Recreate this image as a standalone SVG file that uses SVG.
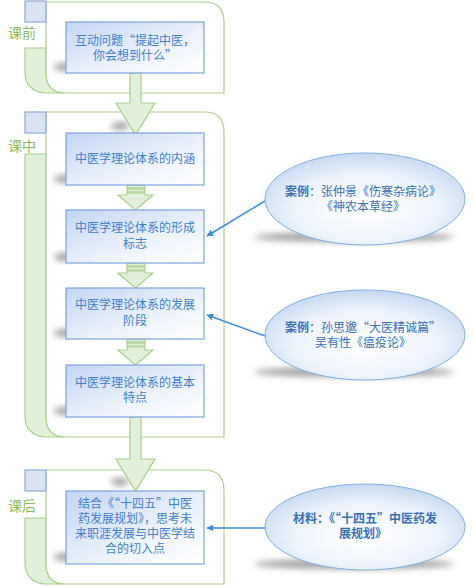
<svg xmlns="http://www.w3.org/2000/svg" width="473" height="586" viewBox="0 0 473 586">
<defs>
<linearGradient id="boxg" x1="0" y1="0" x2="1" y2="1">
<stop offset="0" stop-color="#c3d6f3"/>
<stop offset="0.6" stop-color="#edf3fc"/>
<stop offset="1" stop-color="#ffffff"/>
</linearGradient>
<radialGradient id="ellg" cx="0.5" cy="0.6" r="0.6">
<stop offset="0" stop-color="#ffffff"/>
<stop offset="0.6" stop-color="#eef4fc"/>
<stop offset="1" stop-color="#c6d9f2"/>
</radialGradient>
<filter id="blur" x="-50%" y="-50%" width="200%" height="200%">
<feGaussianBlur stdDeviation="3"/>
</filter>
<marker id="ah" viewBox="0 0 10 10" refX="9" refY="5" markerWidth="7" markerHeight="7" orient="auto-start-reverse" markerUnits="userSpaceOnUse">
<path d="M0,0 L10,5 L0,10 Z" fill="#3a8ee6"/>
</marker>
</defs>
<style>
.frame{fill:#ffffff;stroke:#a9d18e;stroke-width:1.2}
.tab{fill:#e2efd9;stroke:#a9d18e;stroke-width:1.2}
.sq{fill:#dae3f3;stroke:#8eaadb;stroke-width:1.2}
.lbl{font-family:"Noto Sans CJK SC","Noto Sans CJK JP",sans-serif;font-size:14px;fill:#8cbb5c;text-anchor:middle}
.box{fill:url(#boxg);stroke:#7aa6de;stroke-width:1.2}
.bt{font-family:"Noto Sans CJK SC","Noto Sans CJK JP",sans-serif;font-size:12px;fill:#3f7fcf;text-anchor:middle}
.ell{fill:url(#ellg);stroke:#7eb0e4;stroke-width:1}
.et{font-family:"Noto Sans CJK SC","Noto Sans CJK JP",sans-serif;font-size:12px;fill:#3a72b8;text-anchor:middle}
.b{font-weight:bold}
.arr{fill:#e2efd9;stroke:#a9d18e;stroke-width:1.2}
.sh{fill:#444;opacity:0.5;filter:url(#blur)}
.con{stroke:#3a8ee6;stroke-width:1.5;fill:none;marker-end:url(#ah)}
</style>

<!-- Section 1: 课前 -->
<g id="sec-pre">
<path class="tab" d="M25,48 H46 V73 C46,85 54,93 64,93 H46 C34,93 25,85 25,73 Z"/>
<path class="frame" d="M46,2 H204 Q224,2 224,22 V93 H66 Q46,93 46,73 Z"/>
<rect class="sq" x="25" y="1" width="21" height="21"/>
<text class="lbl" x="22" y="38">课前</text>
</g>

<!-- Section 2: 课中 -->
<g id="sec-mid">
<path class="tab" d="M25,154 H46 V417 C46,429 54,437 64,437 H46 C34,437 25,429 25,417 Z"/>
<path class="frame" d="M46,112 H204 Q224,112 224,132 V437 H66 Q46,437 46,417 Z"/>
<rect class="sq" x="25" y="112" width="21" height="21"/>
<text class="lbl" x="22" y="151">课中</text>
</g>

<!-- Section 3: 课后 -->
<g id="sec-post">
<path class="tab" d="M25,518 H46 V564 C46,576 54,584 64,584 H46 C34,584 25,576 25,564 Z"/>
<path class="frame" d="M46,470 H204 Q224,470 224,490 V584 H66 Q46,584 46,564 Z"/>
<rect class="sq" x="25" y="470" width="21" height="21"/>
<text class="lbl" x="22" y="511">课后</text>
</g>

<!-- Connectors -->
<g id="connectors">
<ellipse class="sh" cx="120" cy="126" rx="9" ry="4"/>
<path class="arr" d="M130,73 H141 V103 H155 L135.5,135 L116,103 H130 Z"/>
<g id="sa1">
<rect class="arr" x="127" y="185" width="18" height="3"/>
<rect class="arr" x="127" y="189" width="18" height="3"/>
<path class="arr" d="M127,193 H145 V195 H153 L135.5,210 L118,195 H127 Z"/>
</g>
<g id="sa2">
<rect class="arr" x="127" y="263" width="18" height="3"/>
<rect class="arr" x="127" y="267" width="18" height="3"/>
<path class="arr" d="M127,271 H145 V273 H153 L135.5,288 L118,273 H127 Z"/>
</g>
<g id="sa3">
<rect class="arr" x="127" y="339" width="18" height="3"/>
<rect class="arr" x="127" y="343" width="18" height="3"/>
<path class="arr" d="M127,347 H145 V350 H153 L135.5,365 L118,350 H127 Z"/>
</g>
<ellipse class="sh" cx="120" cy="482" rx="9" ry="4"/>
<path class="arr" d="M130,417 H141 V459 H155 L135.5,491 L116,459 H130 Z"/>
<line class="con" x1="265" y1="201" x2="207" y2="236"/>
<line class="con" x1="265" y1="336" x2="207" y2="315"/>
<line class="con" x1="265" y1="528" x2="207" y2="528"/>
</g>

<!-- Boxes -->
<g id="box1">
<ellipse class="sh" cx="64" cy="67" rx="10" ry="4"/>
<rect class="box" x="66" y="22" width="138" height="51"/>
<text class="bt" x="135" y="45">互动问题“提起中医，</text>
<text class="bt" x="135" y="60">你会想到什么”</text>
</g>
<g id="boxA">
<ellipse class="sh" cx="64" cy="179" rx="10" ry="4"/>
<rect class="box" x="66" y="133" width="138" height="52"/>
<text class="bt" x="135" y="163">中医学理论体系的内涵</text>
</g>
<g id="boxB">
<ellipse class="sh" cx="64" cy="257" rx="10" ry="4"/>
<rect class="box" x="66" y="210" width="138" height="53"/>
<text class="bt" x="135" y="232">中医学理论体系的形成</text>
<text class="bt" x="135" y="248">标志</text>
</g>
<g id="boxC">
<ellipse class="sh" cx="64" cy="333" rx="10" ry="4"/>
<rect class="box" x="66" y="288" width="138" height="51"/>
<text class="bt" x="135" y="309">中医学理论体系的发展</text>
<text class="bt" x="135" y="325">阶段</text>
</g>
<g id="boxD">
<ellipse class="sh" cx="64" cy="411" rx="10" ry="4"/>
<rect class="box" x="66" y="365" width="138" height="52"/>
<text class="bt" x="135" y="387">中医学理论体系的基本</text>
<text class="bt" x="135" y="402">特点</text>
</g>
<g id="boxE">
<ellipse class="sh" cx="64" cy="557" rx="10" ry="4"/>
<rect class="box" x="66" y="491" width="138" height="73"/>
<text class="bt" x="135" y="508">结合《“十四五”中医</text>
<text class="bt" x="135" y="523">药发展规划》，思考未</text>
<text class="bt" x="135" y="538">来职涯发展与中医学结</text>
<text class="bt" x="135" y="553">合的切入点</text>
</g>

<!-- Ellipses -->
<g id="case1">
<ellipse class="sh" cx="354" cy="237" rx="100" ry="5"/>
<ellipse class="ell" cx="365" cy="199" rx="100" ry="46"/>
<text class="et" x="363" y="196"><tspan class="b">案例</tspan>：张仲景《伤寒杂病论》</text>
<text class="et" x="363" y="211">《神农本草经》</text>
</g>
<g id="case2">
<ellipse class="sh" cx="354" cy="372" rx="100" ry="5"/>
<ellipse class="ell" cx="365" cy="335" rx="100" ry="45"/>
<text class="et" x="363" y="332"><tspan class="b">案例</tspan>：孙思邈“大医精诚篇”</text>
<text class="et" x="363" y="347">吴有性《瘟疫论》</text>
</g>
<g id="material">
<ellipse class="sh" cx="354" cy="564" rx="100" ry="5"/>
<ellipse class="ell" cx="365" cy="527" rx="100" ry="43"/>
<text class="et b" x="365" y="523">材料：《“十四五”中医药发</text>
<text class="et b" x="363" y="538">展规划》</text>
</g>
</svg>
